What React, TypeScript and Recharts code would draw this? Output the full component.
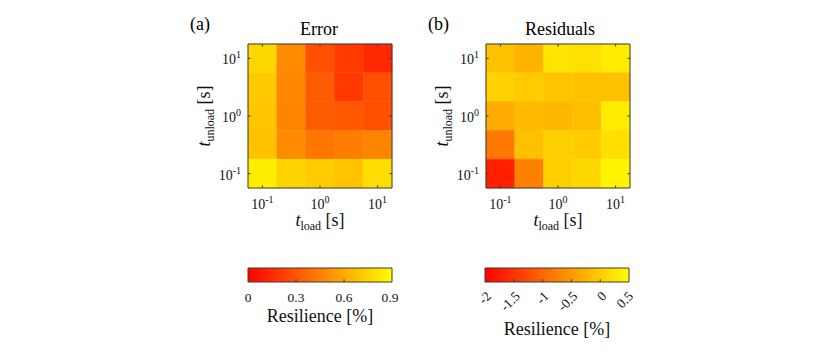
import React from 'react';
import { ComposedChart, XAxis, YAxis, ReferenceArea, ReferenceLine } from 'recharts';

// log10 of t_load (columns, left -> right)
const loadExp = [-1, -0.5, 0, 0.5, 1];
// log10 of t_unload (rows, top -> bottom)
const unloadExp = [1, 0.5, 0, -0.5, -1];
const axisTicks = [-1, 0, 1];

// Panel (a) Error, rows top->bottom
const errorValues = [
  [0.76, 0.49, 0.28, 0.21, 0.14],
  [0.71, 0.48, 0.32, 0.2, 0.28],
  [0.7, 0.47, 0.32, 0.31, 0.28],
  [0.68, 0.49, 0.42, 0.44, 0.47],
  [0.84, 0.75, 0.72, 0.69, 0.78],
];
// Panel (b) Residuals, rows top->bottom
const residualValues = [
  [-0.12, -0.24, 0.24, 0.2, 0.31],
  [0.06, 0.0, -0.08, -0.12, -0.12],
  [-0.31, -0.17, -0.2, -0.14, 0.31],
  [-0.82, -0.12, 0.04, 0.0, 0.2],
  [-1.69, -0.75, 0.04, 0.12, 0.4],
];

const errorRange: [number, number] = [0, 0.9];
const residualRange: [number, number] = [-2, 0.5];
const errorCbTicks = [0, 0.3, 0.6, 0.9];
const errorCbLabels = ['0', '0.3', '0.6', '0.9'];
const residualCbTicks = [-2, -1.5, -1, -0.5, 0, 0.5];
const residualCbLabels = ['-2', '-1.5', '-1', '-0.5', '0', '0.5'];

const FONT = '"Liberation Serif", "Times New Roman", serif';
const EDGE = '#3a3a3a';
const INK = '#111';
const TXT = { fontFamily: FONT } as any;

function autumn(v: number, range: [number, number]) {
  let t = (v - range[0]) / (range[1] - range[0]);
  t = Math.max(0, Math.min(1, t));
  return `rgb(255,${Math.round(255 * t)},0)`;
}

const HALF = 0.25; // half of the log10 step between grid cells
const LO = -1.25;
const HI = 1.25;
const TK = 0.045;

function XTick(p: any) {
  const { x, y, payload } = p;
  return (
    <text x={x} y={y + 21} textAnchor="middle" style={TXT} fontSize={14} fill={INK}>
      <tspan>10</tspan>
      <tspan dy={-6} fontSize={10}>{String(payload.value)}</tspan>
    </text>
  );
}

function YTick(p: any) {
  const { x, y, payload } = p;
  return (
    <text x={x - 7} y={y + 6} textAnchor="end" style={TXT} fontSize={14} fill={INK}>
      <tspan>10</tspan>
      <tspan dy={-6} fontSize={10}>{String(payload.value)}</tspan>
    </text>
  );
}

function Heatmap({ left, values, range, panel, title, titleX }: any) {
  const cells: any[] = [];
  values.forEach((row: number[], r: number) => {
    row.forEach((v: number, c: number) => {
      const col = autumn(v, range);
      cells.push(
        <ReferenceArea
          key={`c${r}-${c}`}
          x1={loadExp[c] - HALF}
          x2={loadExp[c] + HALF}
          y1={unloadExp[r] - HALF}
          y2={unloadExp[r] + HALF}
          fill={col}
          fillOpacity={1}
          stroke={col}
          strokeWidth={0.5}
          ifOverflow="visible"
        />
      );
    });
  });
  const ticks: any[] = [];
  axisTicks.forEach((t) => {
    ticks.push(<ReferenceLine key={`b${t}`} segment={[{ x: t, y: LO }, { x: t, y: LO + TK }]} stroke={EDGE} ifOverflow="visible" />);
    ticks.push(<ReferenceLine key={`t${t}`} segment={[{ x: t, y: HI }, { x: t, y: HI - TK }]} stroke={EDGE} ifOverflow="visible" />);
    ticks.push(<ReferenceLine key={`l${t}`} segment={[{ x: LO, y: t }, { x: LO + TK, y: t }]} stroke={EDGE} ifOverflow="visible" />);
    ticks.push(<ReferenceLine key={`r${t}`} segment={[{ x: HI, y: t }, { x: HI - TK, y: t }]} stroke={EDGE} ifOverflow="visible" />);
  });
  return (
    <div style={{ position: 'absolute', left, top: 0 }}>
      <ComposedChart width={230} height={240} margin={{ top: 44, right: 18, bottom: 22, left: 28 }} data={[]}>
        <XAxis
          type="number"
          dataKey="x"
          domain={[LO, HI]}
          ticks={axisTicks}
          height={30}
          tickLine={false}
          axisLine={false}
          tickSize={0}
          tickMargin={0}
          allowDataOverflow
          tick={(p: any) => <XTick {...p} />}
        />
        <YAxis
          type="number"
          dataKey="y"
          domain={[LO, HI]}
          ticks={axisTicks}
          width={40}
          tickLine={false}
          axisLine={false}
          tickSize={0}
          tickMargin={0}
          allowDataOverflow
          tick={(p: any) => <YTick {...p} />}
        />
        {cells}
        <ReferenceArea x1={LO} x2={HI} y1={LO} y2={HI} fill="none" fillOpacity={0} stroke={EDGE} strokeWidth={1} ifOverflow="visible" />
        {ticks}
        <text x={10} y={30} style={TXT} fontSize={18} fill="#000">{panel}</text>
        <text x={titleX} y={35} textAnchor="middle" style={TXT} fontSize={18} fill="#000">{title}</text>
        <text x={140} y={226} textAnchor="middle" style={TXT} fontSize={18} fill={INK}>
          <tspan fontStyle="italic">t</tspan>
          <tspan dy={4} fontSize={12}>load</tspan>
          <tspan dy={-4}>{' [s]'}</tspan>
        </text>
        <text transform="translate(30,116) rotate(-90)" textAnchor="middle" style={TXT} fontSize={18} fill={INK}>
          <tspan fontStyle="italic">t</tspan>
          <tspan dy={4} fontSize={12}>unload</tspan>
          <tspan dy={-4}>{' [s]'}</tspan>
        </text>
      </ComposedChart>
    </div>
  );
}

function Colorbar({ left, range, ticks, labels, gradId, rotated, labelY }: any) {
  const marks = ticks
    .filter((t: number) => t > range[0] && t < range[1])
    .map((t: number) => (
      <ReferenceLine key={`m${t}`} segment={[{ x: t, y: 0 }, { x: t, y: 0.2 }]} stroke={EDGE} ifOverflow="visible" />
    ));
  const tickFn = (p: any) => {
    const { x, y, payload } = p;
    const idx = ticks.indexOf(payload.value);
    const txt = idx >= 0 ? labels[idx] : String(payload.value);
    if (rotated) {
      return (
        <text
          transform={`translate(${x + 7},${y + 15}) rotate(-45)`}
          textAnchor="end"
          style={TXT}
          fontSize={13.5}
          fill={INK}
        >
          {txt}
        </text>
      );
    }
    return (
      <text x={x} y={y + 20} textAnchor="middle" style={TXT} fontSize={13.5} fill={INK}>
        {txt}
      </text>
    );
  };
  return (
    <div style={{ position: 'absolute', left, top: 255 }}>
      <ComposedChart width={160} height={90} margin={{ top: 13, right: 8, bottom: 33, left: 8 }} data={[]}>
        <defs>
          <linearGradient id={gradId} x1="0" x2="1" y1="0" y2="0">
            <stop offset="0" stopColor={autumn(range[0], range)} />
            <stop offset="1" stopColor={autumn(range[1], range)} />
          </linearGradient>
        </defs>
        <XAxis
          type="number"
          dataKey="x"
          domain={range}
          ticks={ticks}
          height={30}
          tickLine={false}
          axisLine={false}
          tickSize={0}
          tickMargin={0}
          allowDataOverflow
          tick={tickFn}
        />
        <YAxis type="number" dataKey="y" domain={[0, 1]} width={0} tick={false} tickLine={false} axisLine={false} allowDataOverflow />
        <ReferenceArea x1={range[0]} x2={range[1]} y1={0} y2={1} fill={`url(#${gradId})`} fillOpacity={1} stroke={EDGE} strokeWidth={1} ifOverflow="visible" />
        {marks}
        <text x={80} y={labelY} textAnchor="middle" style={TXT} fontSize={18} fill={INK}>
          Resilience [%]
        </text>
      </ComposedChart>
    </div>
  );
}

export default function App() {
  return (
    <div style={{ position: 'absolute', left: 0, top: 0, width: 830, height: 356, background: '#fff', overflow: 'hidden' }}>
      <Heatmap left={180} values={errorValues} range={errorRange} panel="(a)" title="Error" titleX={139} />
      <Heatmap left={418} values={residualValues} range={residualRange} panel="(b)" title="Residuals" titleX={142} />
      <Colorbar left={240} range={errorRange} ticks={errorCbTicks} labels={errorCbLabels} gradId="cbA" rotated={false} labelY={67} />
      <Colorbar left={477} range={residualRange} ticks={residualCbTicks} labels={residualCbLabels} gradId="cbB" rotated={true} labelY={80} />
    </div>
  );
}
